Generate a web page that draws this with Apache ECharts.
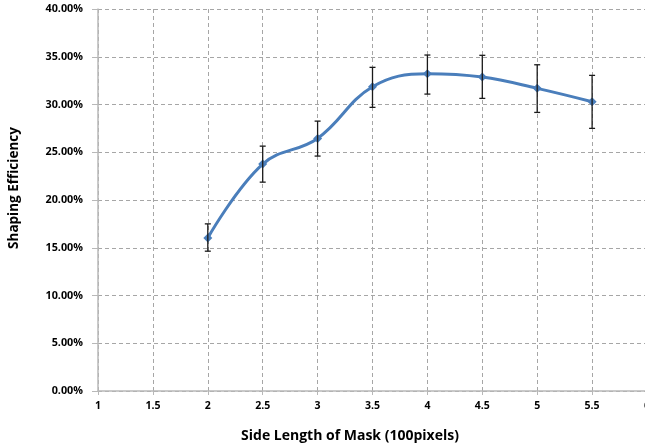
<!DOCTYPE html>
<html>
<head>
<meta charset="utf-8">
<script src="https://cdn.jsdelivr.net/npm/echarts@6/dist/echarts.min.js"></script>
<style>html,body{margin:0;padding:0;background:#fff}#c{width:645px;height:448px}</style>
</head>
<body>
<div id="c"></div>
<script>
const sideLength = [2, 2.5, 3, 3.5, 4, 4.5, 5, 5.5];
const efficiency = [16.03, 23.76, 26.45, 31.86, 33.22, 32.87, 31.69, 30.29];
const errLow = [14.64, 21.87, 24.60, 29.70, 31.09, 30.64, 29.17, 27.50];
const errHigh = [17.50, 25.64, 28.26, 33.89, 35.18, 35.15, 34.16, 33.05];
const xTitle = 'Side Length of Mask (100pixels)';
const yTitle = 'Shaping Efficiency';

const FONT = 'Open Sans';
const chart = echarts.init(document.getElementById('c'));
chart.setOption({
  animation: false,
  grid: { left: 98, top: 9, width: 549, bottom: 57, containLabel: false, outerBoundsMode: 'none' },
  xAxis: {
    type: 'value', min: 1, max: 6, interval: 0.5,
    axisLine: { show: true, onZero: false, lineStyle: { color: '#b8b8b8', width: 1.5 } },
    axisTick: { show: true, length: 4, lineStyle: { color: '#b8b8b8' } },
    axisLabel: { margin: 10, color: '#000', fontFamily: FONT, fontWeight: 'bold', fontSize: 10.5, hideOverlap: false },
    splitLine: { show: true, lineStyle: { color: '#a6a6a6', type: [4, 3], width: 1 } }
  },
  yAxis: {
    type: 'value', min: 0, max: 40, interval: 5,
    axisLine: { show: true, lineStyle: { color: '#b8b8b8', width: 1.5 } },
    axisTick: { show: true, length: 6, lineStyle: { color: '#b8b8b8' } },
    axisLabel: { margin: 15, color: '#000', fontFamily: FONT, fontWeight: 'bold', fontSize: 10.8,
      formatter: v => v.toFixed(2) + '%' },
    splitLine: { show: true, lineStyle: { color: '#a6a6a6', type: [4, 3], width: 1 } }
  },
  graphic: [
    { type: 'text', x: 350, y: 436, style: { text: xTitle, font: 'bold 14px "' + FONT + '"', fill: '#000', align: 'center', verticalAlign: 'middle' } },
    { type: 'text', x: 14, y: 188, rotation: Math.PI / 2, style: { text: yTitle, font: 'bold 13.5px "' + FONT + '"', fill: '#000', align: 'center', verticalAlign: 'middle' } }
  ],
  series: [
    {
      type: 'line', smooth: 0.4,
      data: sideLength.map((x, i) => [x, efficiency[i]]),
      symbol: 'diamond', symbolSize: 9,
      lineStyle: { color: '#4a7ebb', width: 3 },
      itemStyle: { color: '#4a7ebb' },
      z: 2
    },
    {
      type: 'custom', z: 3,
      data: sideLength.map((x, i) => [x, errLow[i], errHigh[i]]),
      renderItem: function (params, api) {
        const lo = api.coord([api.value(0), api.value(1)]);
        const hi = api.coord([api.value(0), api.value(2)]);
        const c = 3;
        const st = { stroke: '#1a1a1a', lineWidth: 1.3 };
        return { type: 'group', children: [
          { type: 'line', shape: { x1: lo[0], y1: lo[1], x2: hi[0], y2: hi[1] }, style: st },
          { type: 'line', shape: { x1: lo[0] - c, y1: lo[1], x2: lo[0] + c, y2: lo[1] }, style: st },
          { type: 'line', shape: { x1: hi[0] - c, y1: hi[1], x2: hi[0] + c, y2: hi[1] }, style: st }
        ]};
      }
    }
  ]
});
</script>
</body>
</html>
